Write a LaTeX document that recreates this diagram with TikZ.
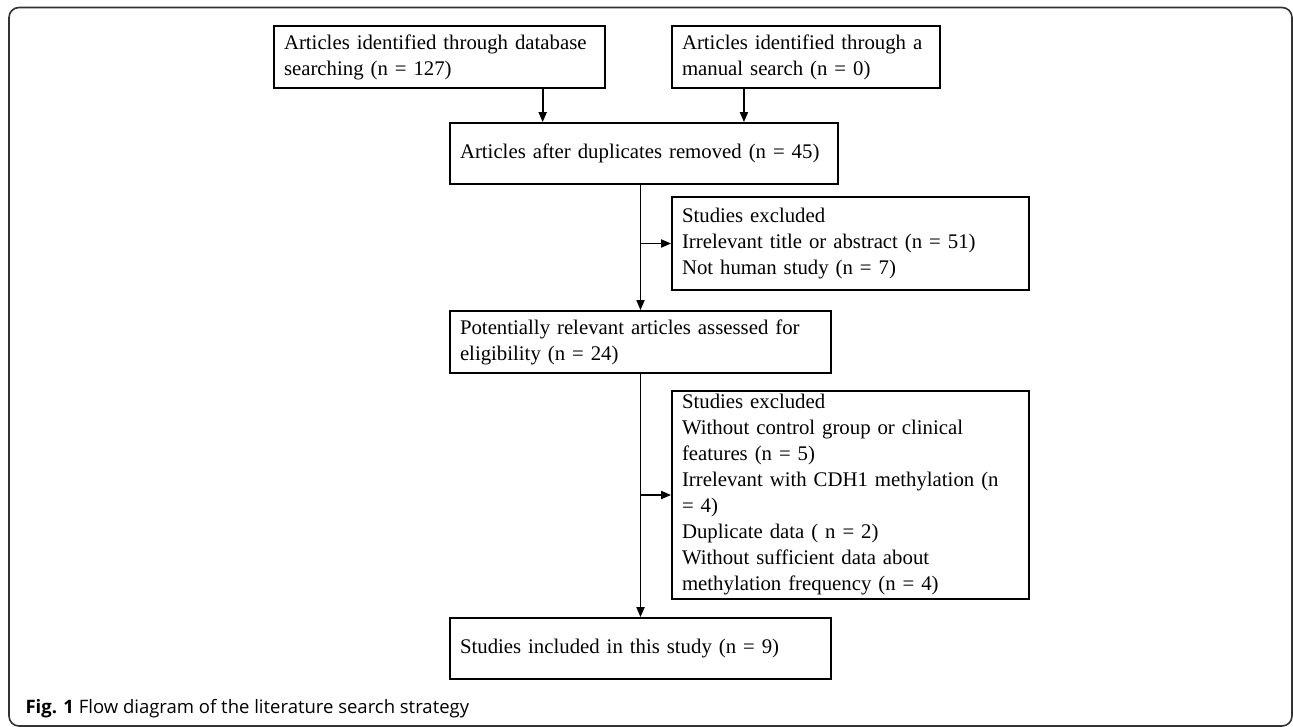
\documentclass[tikz,border=0pt]{standalone}
\usepackage{fontspec}
\setmainfont{Liberation Serif}
\setsansfont{Open Sans}
\usepackage{tikz}
\usetikzlibrary{arrows.meta,positioning,calc}

\begin{document}
\begin{tikzpicture}[
    x=1pt, y=-1pt,
    every node/.style={font=\fontsize{20.8}{26}\selectfont},
    box/.style={draw, line width=1.8pt, align=left, inner xsep=10pt, inner ysep=0pt},
    flow/.style={-{Triangle[length=10pt, width=8pt]}, line width=1.8pt},
    frame/.style={draw=black!80, line width=1.6pt, rounded corners=10pt},
]
\useasboundingbox (0,0) rectangle (1293,726);

% === Outer frame ===
\draw[frame] (9,7.5) rectangle (1292,726);

% === Identification ===
\node[box, text width=311pt, minimum height=62pt] (dbsearch) at (439.5,57)
    {Articles identified through database\\searching (n = 127)};
\node[box, text width=248pt, minimum height=62pt] (manual) at (806,57)
    {Articles identified through a\\manual search (n = 0)};

% Duplicates removed
\node[box, text width=368pt, minimum height=61pt] (dedup) at (644,153.5)
    {Articles after duplicates removed (n = 45)};

\draw[flow] ($(dbsearch.south west)!0.81!(dbsearch.south east)$) coordinate (fa) -- (fa |- dedup.north);
\draw[flow] ($(manual.south west)!0.27!(manual.south east)$) coordinate (fb) -- (fb |- dedup.north);

% === Screening ===
\node[box, text width=337pt, minimum height=93pt] (excl1) at (850.5,243.5)
    {Studies excluded\\Irrelevant title or abstract (n = 51)\\Not human study (n = 7)};
\node[box, text width=361pt, minimum height=62pt] (eligible) at (640.5,342)
    {Potentially relevant articles assessed for\\eligibility (n = 24)};

\draw[flow] (eligible.north |- dedup.south) -- (eligible.north);
\draw[flow] (eligible.north |- excl1.west) -- (excl1.west);

% === Eligibility ===
\node[box, text width=337pt, minimum height=208pt] (excl2) at (850.5,495)
    {Studies excluded\\Without control group or clinical\\features (n = 5)\\Irrelevant with CDH1 methylation (n\\= 4)\\Duplicate data ( n = 2)\\Without sufficient data about\\methylation frequency (n = 4)};
\node[box, text width=361pt, minimum height=61pt] (included) at (640.5,648.5)
    {Studies included in this study (n = 9)};

\draw[flow] (eligible.south) -- (included.north);
\draw[flow] (eligible.south |- excl2.west) -- (excl2.west);

% Caption
\node[font=\sffamily\fontsize{18.5}{22}\selectfont, anchor=west] (caption) at (22,709)
    {\textbf{Fig. 1} Flow diagram of the literature search strategy};

\end{tikzpicture}
\end{document}
